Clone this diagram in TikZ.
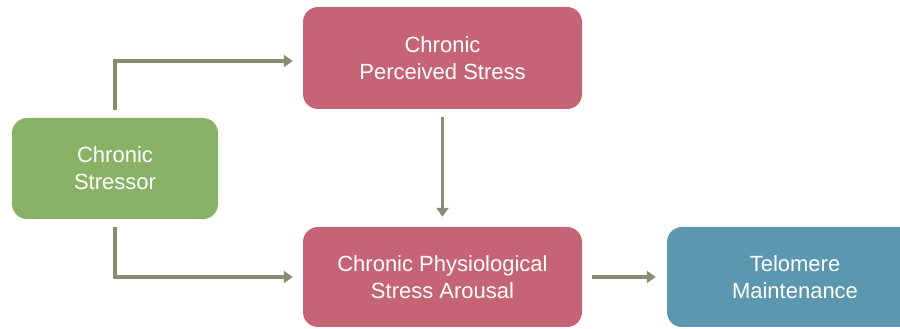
\documentclass[tikz,border=0pt]{standalone}
\usepackage{fontspec}
\setmainfont{Liberation Sans}
\usetikzlibrary{arrows.meta}
\definecolor{boxgreen}{HTML}{8AB266}
\definecolor{boxpink}{HTML}{C46475}
\definecolor{boxteal}{HTML}{5B97AE}
\definecolor{arrowcol}{HTML}{8A8C72}
\tikzset{
  box/.style={rectangle, rounded corners=15pt, text=white, align=center,
    font=\fontsize{22}{27}\selectfont, inner sep=0pt},
  conn/.style={draw=arrowcol, line width=3.3pt,
    -{Triangle[length=9pt,width=12pt]}, fill=none}
}
\begin{document}
\begin{tikzpicture}[x=1pt,y=1pt]
\useasboundingbox (0,0) rectangle (900,329);
\clip (0,0) rectangle (900,329);
\node[box, fill=boxgreen, minimum width=206pt, minimum height=101pt] (cs) at (115,160.5) {Chronic\\Stressor};
\node[box, fill=boxpink, minimum width=279pt, minimum height=102pt] (cps) at (442.5,271) {Chronic\\Perceived Stress};
\node[box, fill=boxpink, minimum width=279pt, minimum height=100pt] (cpsa) at (442.5,52) {Chronic Physiological\\Stress Arousal};
\node[box, fill=boxteal, minimum width=256pt, minimum height=100pt] (tm) at (795,52) {Telomere\\Maintenance};
\draw[conn] ([yshift=8pt]cs.north) |- ([xshift=-10pt,yshift=-3pt]cps.west);
\draw[conn] ([yshift=-8pt]cs.south) |- ([xshift=-10pt]cpsa.west);
\draw[conn] ([yshift=-8pt]cps.south) -- ([yshift=10pt]cpsa.north);
\draw[conn] ([xshift=10pt]cpsa.east) -- ([xshift=-11pt]tm.west);
\end{tikzpicture}
\end{document}
